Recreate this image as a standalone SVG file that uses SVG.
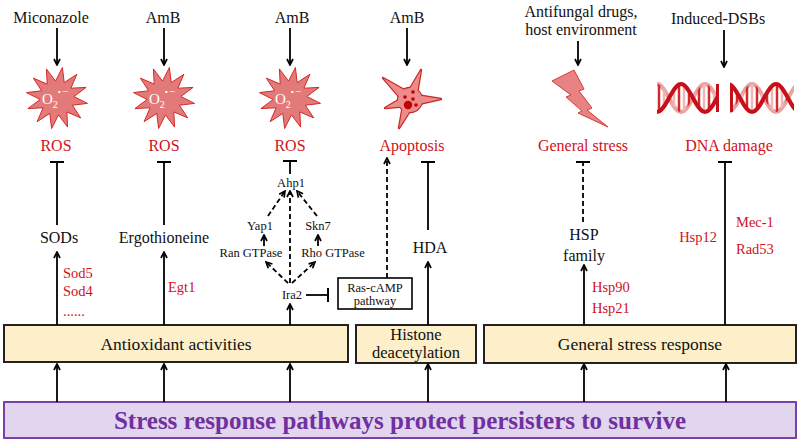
<svg xmlns="http://www.w3.org/2000/svg" width="800" height="442" viewBox="0 0 800 442">
<style>
.t{font-size:16px;fill:#111}
.r{fill:#d0121b}
.s{font-size:12.5px}
.m{font-size:14.5px;fill:#d0121b}
.f17{font-size:16.5px}
.f175{font-size:17.5px}
.f25{font-size:25px;font-weight:bold;fill:#7030a0}
.c{text-anchor:middle}
.box{fill:#fcefca;stroke:#222;stroke-width:2}
.ln{stroke:#000;stroke-width:1.8;fill:none}
.dash{stroke-dasharray:5 3}
.burst{fill:#e37a7a;stroke:#d42a2a;stroke-width:1}
.o2{fill:#fff;font-size:15px}
</style>
<defs>
<marker id="arr" viewBox="0 0 8 8" refX="7" refY="4" markerWidth="8" markerHeight="8" markerUnits="userSpaceOnUse" orient="auto"><path d="M1,1 L7,4 L1,7" fill="none" stroke="#000" stroke-width="1.7"/></marker>
<marker id="tee" viewBox="0 0 4 14" refX="2" refY="7" markerWidth="4" markerHeight="14" markerUnits="userSpaceOnUse" orient="auto"><path d="M2,0 L2,14" stroke="#000" stroke-width="2"/></marker>
<polygon id="burstShape" points="30.5,5.4 15.4,7.2 23.7,19.9 9.8,13.9 10.6,29.1 1.5,16.9 -5.4,30.5 -7.2,15.4 -19.9,23.7 -13.9,9.8 -29.1,10.6 -16.9,1.5 -30.5,-5.4 -15.4,-7.2 -23.7,-19.9 -9.8,-13.9 -10.6,-29.1 -1.5,-16.9 5.4,-30.5 7.2,-15.4 19.9,-23.7 13.9,-9.8 29.1,-10.6 16.9,-1.5"/>
<g id="cellShape">
<polygon points="415.6,102 421,70 404.4,98"/>
<polygon points="410,94 441,99 410,106"/>
<polygon points="415.6,102.2 399,128 404.4,97.8"/>
<polygon points="411.8,105.7 385,108 408.2,94.3"/>
<polygon points="413.8,95.3 383,78 406.2,104.7"/>
<circle cx="410" cy="100" r="12"/>
</g>
<clipPath id="clipL"><rect x="657" y="78" width="62" height="40"/></clipPath>
<clipPath id="clipR"><rect x="730" y="78" width="64" height="40"/></clipPath>
<clipPath id="rungL"><path d="M633,84 C642,84 648,112 657,112 C666,112 672,84 681,84 C690,84 696,112 705,112 C714,112 720,84 729,84 L729,112 C720,112 714,84 705,84 C696,84 690,112 681,112 C672,112 666,84 657,84 C648,84 642,112 633,112 Z"/></clipPath>
<clipPath id="rungR"><path d="M728,84 C737,84 743,112 752,112 C761,112 767,84 776,84 C785,84 791,112 800,112 L800,84 C791,84 785,112 776,112 C767,112 761,84 752,84 C743,84 737,112 728,112 Z"/></clipPath>
</defs>
<rect width="800" height="442" fill="#fff"/>

<!-- column 1 -->
<g id="n-miconazole"><text font-family="'Liberation Serif', serif" class="t c" x="51" y="23">Miconazole</text></g>
<g id="n-ros1"><use href="#burstShape" class="burst" transform="translate(57,98)"/><text font-family="'Liberation Serif', serif" class="o2" x="42" y="104">O<tspan font-size="10" dy="4">2</tspan><tspan font-size="9" dy="-13">•</tspan><tspan font-size="11" dx="1">−</tspan></text><text font-family="'Liberation Serif', serif" class="t r c" x="56" y="151">ROS</text></g>
<g id="n-sods"><text font-family="'Liberation Serif', serif" class="t c" x="59" y="243">SODs</text><text font-family="'Liberation Serif', serif" class="t m" x="63" y="278">Sod5</text><text font-family="'Liberation Serif', serif" class="t m" x="63" y="296">Sod4</text><text font-family="'Liberation Serif', serif" class="t m" x="63" y="316">......</text></g>

<!-- column 2 -->
<g id="n-amb1"><text font-family="'Liberation Serif', serif" class="t c" x="163" y="23">AmB</text></g>
<g id="n-ros2"><use href="#burstShape" class="burst" transform="translate(164,98)"/><text font-family="'Liberation Serif', serif" class="o2" x="149" y="104">O<tspan font-size="10" dy="4">2</tspan><tspan font-size="9" dy="-13">•</tspan><tspan font-size="11" dx="1">−</tspan></text><text font-family="'Liberation Serif', serif" class="t r c" x="164" y="151">ROS</text></g>
<g id="n-ergo"><text font-family="'Liberation Serif', serif" class="t c" x="164" y="243">Ergothioneine</text><text font-family="'Liberation Serif', serif" class="t m" x="168" y="292">Egt1</text></g>

<!-- column 3 -->
<g id="n-amb2"><text font-family="'Liberation Serif', serif" class="t c" x="292" y="23">AmB</text></g>
<g id="n-ros3"><use href="#burstShape" class="burst" transform="translate(290,98)"/><text font-family="'Liberation Serif', serif" class="o2" x="275" y="104">O<tspan font-size="10" dy="4">2</tspan><tspan font-size="9" dy="-13">•</tspan><tspan font-size="11" dx="1">−</tspan></text><text font-family="'Liberation Serif', serif" class="t r c" x="290" y="151">ROS</text></g>
<g id="n-ahp1"><text font-family="'Liberation Serif', serif" class="t s c" x="291" y="187">Ahp1</text></g>
<g id="n-yap1"><text font-family="'Liberation Serif', serif" class="t s c" x="260" y="230">Yap1</text></g>
<g id="n-skn7"><text font-family="'Liberation Serif', serif" class="t s c" x="318" y="230">Skn7</text></g>
<g id="n-ran"><text font-family="'Liberation Serif', serif" class="t s c" x="251" y="257">Ran GTPase</text></g>
<g id="n-rho"><text font-family="'Liberation Serif', serif" class="t s c" x="333" y="257">Rho GTPase</text></g>
<g id="n-ira2"><text font-family="'Liberation Serif', serif" class="t s c" x="292" y="299">Ira2</text></g>
<g id="n-ras"><rect x="338" y="278" width="74" height="31" fill="#fff" stroke="#000" stroke-width="1.6"/><text font-family="'Liberation Serif', serif" class="t s c" x="375" y="292">Ras-cAMP</text><text font-family="'Liberation Serif', serif" class="t s c" x="375" y="305">pathway</text></g>

<!-- column 4 -->
<g id="n-amb3"><text font-family="'Liberation Serif', serif" class="t c" x="407" y="23">AmB</text></g>
<g id="n-apoptosis">
<use href="#cellShape" fill="#c62828" stroke="#c62828" stroke-width="2.4" stroke-linejoin="round"/>
<use href="#cellShape" fill="#ee8a8a"/>
<g fill="#c00000"><circle cx="408" cy="105" r="4.2"/><circle cx="405" cy="97" r="1.8"/><circle cx="413" cy="92" r="1.8"/><circle cx="413" cy="99" r="1.8"/><circle cx="416" cy="105" r="1.8"/></g>
<text font-family="'Liberation Serif', serif" class="t r c" x="412" y="151">Apoptosis</text></g>
<g id="n-hda"><text font-family="'Liberation Serif', serif" class="t c" x="430" y="253">HDA</text></g>

<!-- column 5 -->
<g id="n-antifungal"><text font-family="'Liberation Serif', serif" class="t c" x="581" y="17">Antifungal drugs,</text><text font-family="'Liberation Serif', serif" class="t c" x="581" y="35">host environment</text></g>
<g id="n-general-stress"><polygon points="552,81 574,70 584,89 579,91 592,108 587,110 608,127 578,113 582,111 566,97 571,95" fill="#e98282" stroke="#d63b3b" stroke-width="1" stroke-linejoin="round"/><text font-family="'Liberation Serif', serif" class="t r c" x="583" y="151">General stress</text></g>
<g id="n-hsp"><text font-family="'Liberation Serif', serif" class="t c" x="584" y="240">HSP</text><text font-family="'Liberation Serif', serif" class="t c" x="584" y="261">family</text><text font-family="'Liberation Serif', serif" class="t m" x="592" y="292">Hsp90</text><text font-family="'Liberation Serif', serif" class="t m" x="592" y="313">Hsp21</text></g>

<!-- column 6 -->
<g id="n-dsb"><text font-family="'Liberation Serif', serif" class="t c" x="718" y="24">Induced-DSBs</text></g>
<g id="n-dna">
<g clip-path="url(#clipL)">
<path d="M633,112 C642,112 648,84 657,84 S672,112 681,112 S696,84 705,84 S720,112 729,112" fill="none" stroke="#e9a3a3" stroke-width="4"/>
<g clip-path="url(#rungL)" stroke-width="2.5"><path d="M659,84V112M669,84V112M679,84V112M689,84V112M699,84V112M709,84V112" stroke="#d22a2a"/><path d="M664,84V112M674,84V112M684,84V112M694,84V112M704,84V112M714,84V112" stroke="#efb7b7"/></g>
<path d="M633,84 C642,84 648,112 657,112 S672,84 681,84 S696,112 705,112 S720,84 729,84" fill="none" stroke="#c8101a" stroke-width="4"/>
</g>
<rect x="716" y="84" width="3" height="28" fill="#c8101a"/>
<g clip-path="url(#clipR)">
<path d="M728,112 C737,112 743,84 752,84 S767,112 776,112 S791,84 800,84" fill="none" stroke="#e9a3a3" stroke-width="4"/>
<g clip-path="url(#rungR)" stroke-width="2.5"><path d="M737,84V112M747,84V112M757,84V112M767,84V112M777,84V112M787,84V112" stroke="#d22a2a"/><path d="M742,84V112M752,84V112M762,84V112M772,84V112M782,84V112" stroke="#efb7b7"/></g>
<path d="M728,84 C737,84 743,112 752,112 S767,84 776,84 S791,112 800,112" fill="none" stroke="#c8101a" stroke-width="4"/>
</g>
<rect x="730" y="84" width="3" height="28" fill="#c8101a"/>
<text font-family="'Liberation Serif', serif" class="t r c" x="729" y="151">DNA damage</text></g>
<g id="n-dnarepair"><text font-family="'Liberation Serif', serif" class="t m" x="717" y="242" text-anchor="end">Hsp12</text><text font-family="'Liberation Serif', serif" class="t m" x="736" y="227">Mec-1</text><text font-family="'Liberation Serif', serif" class="t m" x="736" y="254">Rad53</text></g>

<!-- boxes -->
<g id="n-antioxidant"><rect class="box" x="4" y="325" width="344" height="37"/><text font-family="'Liberation Serif', serif" class="t c f175" x="176" y="350">Antioxidant activities</text></g>
<g id="n-histone"><rect class="box" x="356" y="325" width="120" height="38"/><text font-family="'Liberation Serif', serif" class="t c f17" x="416" y="340">Histone</text><text font-family="'Liberation Serif', serif" class="t c f17" x="416" y="358">deacetylation</text></g>
<g id="n-gsr"><rect class="box" x="484" y="325" width="312" height="38"/><text font-family="'Liberation Serif', serif" class="t c f175" x="640" y="350">General stress response</text></g>
<g id="n-stress"><rect x="4" y="402" width="792" height="36" fill="#e2d5ee" stroke="#7b3fa8" stroke-width="2"/><text font-family="'Liberation Serif', serif" class="t c f25" x="400" y="429">Stress response pathways protect persisters to survive</text></g>

<g id="connectors">
<line class="ln" x1="57" y1="28" x2="57" y2="65" marker-end="url(#arr)"/>
<line class="ln" x1="164" y1="28" x2="164" y2="65" marker-end="url(#arr)"/>
<line class="ln" x1="290" y1="28" x2="290" y2="65" marker-end="url(#arr)"/>
<line class="ln" x1="407" y1="28" x2="407" y2="65" marker-end="url(#arr)"/>
<line class="ln" x1="578" y1="41" x2="578" y2="65" marker-end="url(#arr)"/>
<line class="ln" x1="724" y1="30" x2="724" y2="67" marker-end="url(#arr)"/>
<line class="ln" x1="57" y1="225" x2="57" y2="162" marker-end="url(#tee)"/>
<line class="ln" x1="164" y1="225" x2="164" y2="162" marker-end="url(#tee)"/>
<line class="ln" x1="290" y1="174" x2="290" y2="161" marker-end="url(#tee)"/>
<line class="ln" x1="428" y1="230" x2="428" y2="162" marker-end="url(#tee)"/>
<line class="ln dash" x1="583" y1="222" x2="583" y2="162" marker-end="url(#tee)"/>
<line class="ln" x1="725" y1="325" x2="725" y2="162" marker-end="url(#tee)"/>
<line class="ln" x1="306" y1="295" x2="328" y2="295" marker-end="url(#tee)"/>
<line class="ln" x1="57" y1="325" x2="57" y2="252" marker-end="url(#arr)"/>
<line class="ln" x1="164" y1="325" x2="164" y2="252" marker-end="url(#arr)"/>
<line class="ln" x1="290" y1="325" x2="290" y2="304" marker-end="url(#arr)"/>
<line class="ln" x1="428" y1="325" x2="428" y2="262" marker-end="url(#arr)"/>
<line class="ln" x1="584" y1="325" x2="584" y2="265" marker-end="url(#arr)"/>
<line class="ln" x1="57" y1="402" x2="57" y2="364" marker-end="url(#arr)"/>
<line class="ln" x1="164" y1="402" x2="164" y2="364" marker-end="url(#arr)"/>
<line class="ln" x1="290" y1="402" x2="290" y2="364" marker-end="url(#arr)"/>
<line class="ln" x1="428" y1="402" x2="428" y2="364" marker-end="url(#arr)"/>
<line class="ln" x1="584" y1="402" x2="584" y2="364" marker-end="url(#arr)"/>
<line class="ln" x1="726" y1="402" x2="726" y2="364" marker-end="url(#arr)"/>
<line class="ln dash" x1="288" y1="283" x2="266" y2="262" marker-end="url(#arr)"/>
<line class="ln dash" x1="292" y1="283" x2="315" y2="262" marker-end="url(#arr)"/>
<line class="ln dash" x1="290" y1="283" x2="290" y2="191" marker-end="url(#arr)"/>
<line class="ln dash" x1="268" y1="216" x2="285" y2="191" marker-end="url(#arr)"/>
<line class="ln dash" x1="317" y1="216" x2="297" y2="191" marker-end="url(#arr)"/>
<line class="ln" x1="264" y1="246" x2="264" y2="235" marker-end="url(#arr)"/>
<line class="ln" x1="318" y1="246" x2="318" y2="235" marker-end="url(#arr)"/>
<line class="ln dash" x1="387" y1="278" x2="387" y2="158" marker-end="url(#arr)"/>
</g>
</svg>
